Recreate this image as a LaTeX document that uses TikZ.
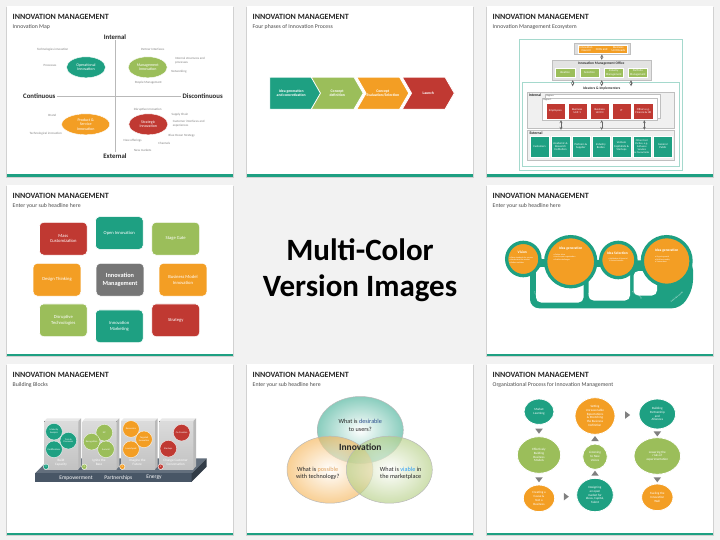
\documentclass[tikz,border=0pt]{standalone}
\usepackage{fontspec}
\setmainfont{Carlito}
\usetikzlibrary{shapes.geometric,shapes.symbols,arrows,positioning,calc}
\definecolor{imteal}{RGB}{30,160,130}
\definecolor{imgreen}{RGB}{155,190,90}
\definecolor{imorange}{RGB}{243,158,36}
\definecolor{imred}{RGB}{192,57,50}
\definecolor{imgray}{RGB}{118,118,118}
\definecolor{imslate}{RGB}{72,86,102}
\definecolor{bgray}{RGB}{242,242,242}
\definecolor{navy}{RGB}{47,79,143}
\definecolor{skyblue}{RGB}{42,157,244}
\definecolor{tan}{RGB}{222,160,90}
\newcommand\fsz[2]{\fontsize{#1}{#2}\selectfont}
\tikzset{
  title/.style={anchor=west, inner sep=0, font=\bfseries\fsz{8}{9}, text=black!85},
  subtitle/.style={anchor=west, inner sep=0, font=\fsz{5.8}{7}, text=black!70},
  axis/.style={inner sep=1pt, font=\bfseries\fsz{6.8}{8}, text=black!85},
  blob/.style={ellipse, minimum width=39, minimum height=21, inner sep=0, align=center, text=white, draw=white, line width=0.4, font=\fsz{4}{4.6}},
  tag/.style={inner sep=0, align=center, text=black!50, font=\fsz{3.2}{3.7}},
  chev/.style={signal, signal to=east, signal from=west, signal pointer angle=120, minimum width=52, minimum height=32, inner sep=0, align=center, text=white, draw=white, line width=0.8, font=\bfseries\fsz{3.8}{4.6}},
  panel/.style={draw=gray!50, fill=gray!12, line width=0.3, inner sep=0},
  ebox/.style={inner sep=0.3, align=center, text=white, draw=white, line width=0.2, font=\fsz{2.9}{3.3}},
  etxt/.style={inner sep=0, align=center, text=white, font=\fsz{3}{3.4}},
  hdr/.style={inner sep=0.3, font=\bfseries\fsz{3.6}{4}, text=black!80},
  lbl/.style={inner sep=0, font=\bfseries\fsz{3.8}{4.2}, text=black!85},
  small/.style={inner sep=0, anchor=west, font=\fsz{2.2}{2.6}, text=black!70},
  dbl/.style={<->, >=stealth, black!60, line width=0.35},
  tile/.style={rounded corners=4pt, minimum width=47.7, minimum height=32.7, inner sep=1, align=center, text=white, draw=white, line width=0.6, font=\fsz{4.6}{5.6}},
  ring/.style={circle, fill=imorange, draw=imteal, line width=3.3, inner sep=0},
  ctitle/.style={inner sep=0, text=white, font=\bfseries\fsz{3.6}{4}},
  bul/.style={inner sep=0, anchor=north west, align=left, text=white, font=\fsz{2}{2.7}},
  looptxt/.style={inner sep=0, text=white, font=\fsz{2}{2.4}},
  plat/.style={inner sep=0, text=white, font=\fsz{5.5}{6.5}},
  bub/.style={circle, minimum size=16.6, inner sep=0, align=center, text=white, draw=white, line width=0.3, font=\fsz{2.4}{2.8}},
  blbl/.style={inner sep=0, align=center, text=white, font=\fsz{3.4}{3.9}},
  num/.style={circle, minimum size=5.4, inner sep=0, draw=white, line width=0.4, text=white, font=\fsz{2.6}{3}},
  venn/.style={ellipse, minimum width=86, minimum height=67, draw=gray!55, line width=0.5, fill opacity=0.65},
  vtxt/.style={inner sep=0, align=center, text=black!85, font=\fsz{6.2}{7.4}},
  orb/.style={ellipse, inner sep=0, align=center, text=white, draw=white, line width=0.8, font=\fsz{3.2}{3.8}},
  tri/.style={isosceles triangle, isosceles triangle stretches, minimum width=7.5, minimum height=5, inner sep=0, fill=black!50}
}
\begin{document}
\begin{tikzpicture}[x=1pt,y=-1pt]
\useasboundingbox (0,0) rectangle (720,540);
\fill[bgray] (0,0) rectangle (720,540);

\foreach \sx/\sy/\sub in {7/6/Innovation Map, 247/6/Four phases of Innovation Process, 487/6/Innovation Management Ecosystem, 7/185/Enter your sub headline here, 487/185/Enter your sub headline here, 7/364/Building Blocks, 247/364/Enter your sub headline here, 487/364/Organizational Process for Innovation Management}{
  \begin{scope}[shift={(\sx,\sy)}]
    \fill[black!18] (-1.2,1.2) rectangle (227.2,172.2);
    \fill[white] (0,0) rectangle (226,171);
    \fill[imteal] (0,168.5) rectangle (226,170.8);
    \node[title] at (5.5,10.5) {INNOVATION MANAGEMENT};
    \node[subtitle] at (5.5,20.5) {\sub};
  \end{scope}
}

\node[align=center, font=\bfseries\fsz{31}{36}] (center) at (360,270) {Multi-Color\\Version Images};

% innovation map
\begin{scope}[shift={(7,6)}]
  \node[axis] (int) at (108,30.7) {Internal};
  \node[axis] (ext) at (108,150) {External};
  \node[axis] (cont) at (32.3,90) {Continuous};
  \node[axis] (disc) at (195.7,90) {Discontinuous};
  \draw[gray!55, line width=0.5] (int) -- (ext);
  \draw[gray!55, line width=0.5] (cont) -- (disc);
  \node[blob, fill=imteal] (op) at (79,61.3) {Operational\\Innovation};
  \node[blob, fill=imgreen] (mg) at (140.7,61.3) {Management\\Innovation};
  \node[blob, fill=imorange, minimum width=48] (ps) at (78.7,118.3) {Product \&\\Service\\Innovation};
  \node[blob, fill=imred] (st) at (141.3,118.3) {Strategic\\Innovation};
  \node[tag] at (45.7,44) {Technologies innovation};
  \node[tag] at (43,59.3) {Processes};
  \node[tag] at (145.7,43.3) {Partner Interfaces};
  \node[tag, align=left] at (183,54.5) {Internal structures and\\processes};
  \node[tag] at (172,66) {Networking};
  \node[tag] at (141.3,76.7) {People Management};
  \node[tag] at (140.7,103.3) {Disruptive Innovation};
  \node[tag] at (173,108.3) {Supply Chain};
  \node[tag, align=left] at (181.7,117.8) {Customer interfaces and\\experiences};
  \node[tag] at (174.7,130) {Blue Ocean Strategy};
  \node[tag] at (125.7,134.7) {New offerings};
  \node[tag] at (157.3,137.7) {Channels};
  \node[tag] at (135.7,144.7) {New markets};
  \node[tag] at (45.3,109) {Brand};
  \node[tag] at (38.7,128) {Technological innovation};
\end{scope}

% four phases
\begin{scope}[shift={(247,6)}]
  \node[chev, fill=imteal, signal from=nowhere] (ph1) at (44.2,87.2) {Idea generation\\and concretization};
  \node[chev, fill=imgreen] (ph2) at (90.2,87.2) {Concept\\definition};
  \node[chev, fill=imorange] (ph3) at (135.8,87.2) {Concept\\Evaluation/Selection};
  \node[chev, fill=imred] (ph4) at (181.3,87.2) {Launch};
\end{scope}

% ecosystem
\begin{scope}[shift={(487,6)}]
  \node[draw=imteal!40, fill=white, line width=0.5, minimum width=163.4, minimum height=130.7, inner sep=0] (eco) at (114,98.65) {};
  \node[panel, fill=gray!25, minimum width=55.7, minimum height=11.6] (council) at (115.2,42.5) {};
  \node[ebox, fill=imorange, minimum width=49, minimum height=8.3] (cbar) at (115.2,43.2) {};
  \node[etxt] at (99,43.2) {Innovation\\Council};
  \node[etxt] at (114.7,43.2) {CEOs and};
  \node[etxt] at (131.3,43.2) {Business\\Unit Heads};
  \node[panel, fill=gray!22, minimum width=99, minimum height=20] (office) at (114.2,64) {};
  \node[hdr] at (114.2,58) {Innovation Management Office};
  \node[ebox, fill=imgreen, minimum width=20, minimum height=9] (ofa) at (78,66.8) {Ideation};
  \node[ebox, fill=imgreen, minimum width=19, minimum height=9] (ofb) at (102.5,66.8) {Selection};
  \node[ebox, fill=imgreen, minimum width=19.3, minimum height=9] (ofc) at (126.7,66.8) {Industry\\Management};
  \node[ebox, fill=imgreen, minimum width=19, minimum height=9] (ofd) at (150.8,66.8) {Portfolio\\Management};
  \draw[dbl] (council) -- (office);
  \node[draw=imteal!40, fill=white, line width=0.5, minimum width=156.3, minimum height=84, inner sep=0] (ideas) at (113.85,118.7) {};
  \node[hdr] (ideahdr) at (114.7,82.3) {Ideators \& Implementers};
  \foreach \dx in {-28.5,0.5,29.8}
    \draw[dbl] ([xshift=\dx pt]office.south) -- ([xshift=\dx pt]office.south |- ideahdr.north);
  \node[panel, minimum width=147.6, minimum height=36] (intl) at (113.5,104.3) {};
  \node[lbl] at (48,88.8) {Internal};
  \node[draw=gray!50, fill=white, line width=0.3, minimum width=115, minimum height=24, inner sep=0] (regs) at (115.5,100.3) {};
  \node[small] at (59.5,90) {Regions};
  \node[draw=gray!50, fill=white, line width=0.3, minimum width=115, minimum height=22.3, inner sep=0] (reg1) at (112.2,102.85) {};
  \node[small] at (56.5,93.6) {Region 1};
  \node[ebox, fill=imred, minimum width=19.4, minimum height=16.6] (emp) at (68.35,105) {Employees};
  \node[ebox, fill=imred, minimum width=19, minimum height=16.6] (bu1) at (90.2,105) {Business\\Unit 1};
  \node[ebox, fill=imred, minimum width=19.3, minimum height=16.6] (bun) at (112.65,105) {Business\\Unit N};
  \node[ebox, fill=imred, minimum width=19.3, minimum height=16.6] (it) at (134.35,105) {IT};
  \node[ebox, fill=imred, minimum width=20, minimum height=16.6] (oth) at (156.3,105) {Others e.g.\\Finance \& HR};
  \node[panel, minimum width=147.6, minimum height=30] (extl) at (113.5,139) {};
  \node[lbl] at (49,127) {External};
  \foreach \dx in {-38.2,2.5,45.1}
    \draw[dbl] ([xshift=\dx pt]reg1.south) -- ([xshift=\dx pt]reg1.south |- extl.north);
  \node[ebox, fill=imteal, minimum width=19, minimum height=20.7] (cus) at (52.5,140.35) {Customers};
  \node[ebox, fill=imteal, minimum width=19, minimum height=20.7] (aca) at (73.5,140.35) {Academic \&\\Research\\Institution};
  \node[ebox, fill=imteal, minimum width=18.3, minimum height=20.7] (par) at (93.85,140.35) {Partners \&\\Supplier};
  \node[ebox, fill=imteal, minimum width=18.3, minimum height=20.7] (ind) at (113.85,140.35) {Industry\\Bodies};
  \node[ebox, fill=imteal, minimum width=18.4, minimum height=20.7] (ven) at (134.5,140.35) {Venture\\Capitalists \&\\Startups};
  \node[ebox, fill=imteal, minimum width=18.3, minimum height=20.7, font=\fsz{2.6}{2.95}] (thi) at (154.85,140.35) {Other third\\Parties, e.g.,\\Software\\Vendors\\\& Consultants};
  \node[ebox, fill=imteal, minimum width=19, minimum height=20.7] (gen) at (175.8,140.35) {General\\Public};
\end{scope}

% tiles
\begin{scope}[shift={(7,185)}]
  \node[tile, fill=imgray, font=\bfseries\fsz{6.3}{7.4}] (core) at (113,94.7) {Innovation\\Management};
  \node[tile, fill=imred] (mass) at (56.3,53.7) {Mass\\Customization};
  \node[tile, fill=imteal] (open) at (112.3,48) {Open Innovation};
  \node[tile, fill=imgreen] (gate) at (168.7,53.7) {Stage Gate};
  \node[tile, fill=imorange] (dt) at (50,94.7) {Design Thinking};
  \node[tile, fill=imorange] (bmi) at (176,94.7) {Business Model\\Innovation};
  \node[tile, fill=imgreen] (dis) at (56.3,135.3) {Disruptive\\Technologies};
  \node[tile, fill=imteal] (mkt) at (112.3,141.3) {Innovation\\Marketing};
  \node[tile, fill=imred] (strat) at (168.7,135.3) {Strategy};
\end{scope}

% loop of circles
\begin{scope}[shift={(487,185)}]
  \fill[imteal, rounded corners=9pt] (43,74) -- (43,123.3) -- (194,123.3) -- (206,104) -- (206,76) -- cycle;
  \fill[white, rounded corners=5pt] (49,82) rectangle (96.5,117.5);
  \fill[white, rounded corners=5pt] (101.5,82) rectangle (143,115.5);
  \fill[white, rounded corners=5pt] (146.5,86) rectangle (170,110.5);
  \node[looptxt, rotate=-50] at (51,112) {Feedback loop};
  \node[looptxt, rotate=-25] at (106.3,111.7) {Feedback loop};
  \node[looptxt, rotate=-35] at (150,110) {Feedback loop};
  \node[looptxt, rotate=40] at (190,112) {Sustainable growth};
  \node[ring, minimum size=33.3] (vis) at (36.3,74) {};
  \node[ring, minimum size=50.1] (ide) at (83.7,76.7) {};
  \node[ring, minimum size=35.3] (sel) at (131.3,75) {};
  \node[ring, minimum size=48.7] (gro) at (179.7,76) {};
  \node[ctitle] at (35.3,67.7) {Vision};
  \node[bul] at (22.3,71.5) {• Raise standards for success\\• Understand the market\\• Define ambition};
  \node[ctitle] at (83.7,63.3) {Idea generation};
  \node[bul] at (66.3,68.5) {• Gather ideas\\• Involve your organization\\• Publish challenges};
  \node[ctitle] at (130.3,68.3) {Idea Selection};
  \node[bul] at (121.3,72.5) {• Validation of financial\\\ \ \& future benefits};
  \node[ctitle] at (179.7,65.7) {Idea generation};
  \node[bul] at (168,70.8) {• Organic growth\\• Build new entity\\• Transactions};
\end{scope}

% building blocks
\begin{scope}[shift={(7,364)}]
  \fill[imslate!85] (28,109.3) -- (43,94.3) -- (199.7,94.3) -- (184.7,109.3) -- cycle;
  \fill[imslate] (28,109.3) rectangle (184.7,117.7);
  \fill[imslate!70!black] (184.7,109.3) -- (199.7,94.3) -- (199.7,102.7) -- (184.7,117.7) -- cycle;
  \node[plat] at (69,113.7) {Empowerment};
  \node[plat] at (111.3,113.7) {Partnerships};
  \node[plat] at (147,113.7) {Energy};
  \foreach \bx in {37.3,75.7,114,152.3}{
    \fill[gray!18] (\bx,57) -- (\bx+2.7,54.3) -- (\bx+36.7,54.3) -- (\bx+34,57) -- cycle;
    \fill[top color=gray!28, bottom color=gray!48] (\bx,57) rectangle (\bx+34,105);
    \fill[gray!55] (\bx+34,57) -- (\bx+36.7,54.3) -- (\bx+36.7,102.3) -- (\bx+34,105) -- cycle;
  }
  \node[bub, fill=imteal] (ma) at (47,67.7) {Maturity\\Analysis};
  \node[bub, fill=imteal] (tp) at (61.3,76.7) {Train \&\\Processes};
  \node[bub, fill=imteal] (ce) at (47,85.3) {Certifications};
  \node[bub, fill=imgreen] (ilp) at (97.3,68.7) {ILP};
  \node[bub, fill=imgreen] (rec) at (84.7,77.7) {Recognition};
  \node[bub, fill=imgreen] (sum) at (99,85.3) {Summit};
  \node[bub, fill=imorange] (res) at (124,65) {Reservoirs};
  \node[bub, fill=imorange] (tar) at (137,75.3) {Targeted\\Innovation};
  \node[bub, fill=imorange] (lau) at (124,85.3) {Launchpad};
  \node[bub, fill=imred] (coc) at (174.7,68.7) {Co-Creation};
  \node[bub, fill=imred] (sta) at (161.3,84.7) {Startups};
  \node[blbl] at (54,98.3) {Build\\Capacity};
  \node[blbl] at (92,98.3) {Ignite the\\Base};
  \node[blbl] at (130.3,98.3) {Imagine the\\Future};
  \node[blbl] at (168.7,98.3) {Change Customer\\Conversation};
  \node[num, fill=imteal] at (39,102.7) {1};
  \node[num, fill=imgreen] at (77.3,102.7) {2};
  \node[num, fill=imorange] at (115.3,102.7) {3};
  \node[num, fill=imred] at (153.7,102.7) {4};
\end{scope}

% venn
\begin{scope}[shift={(247,364)}]
  \node[venn, inner color=white, outer color=imteal!80] (des) at (113.3,66) {};
  \node[venn, inner color=white, outer color=imorange!75] (pos) at (83,105.7) {};
  \node[venn, inner color=white, outer color=imgreen!75] (via) at (142.3,105.7) {};
  \node[vtxt] at (113.3,61.5) {What is \textcolor{navy}{desirable}\\to users?};
  \node[vtxt, font=\bfseries\fsz{9.5}{11}] at (113.3,82.7) {Innovation};
  \node[vtxt] at (70.7,109.3) {What is \textcolor{tan}{possible}\\with technology?};
  \node[vtxt] at (153.7,109.3) {What is \textcolor{skyblue}{viable} in\\the marketplace};
\end{scope}

% organizational process
\begin{scope}[shift={(487,364)}]
  \node[orb, fill=imteal, minimum width=30, minimum height=25.4] (ml) at (52,47.7) {Market\\Learning};
  \node[orb, fill=imgreen, minimum width=43.4, minimum height=36.6] (eb) at (52,91) {Effectively\\Building\\Business\\Models};
  \node[orb, fill=imorange, minimum width=31.4, minimum height=26.6] (cc) at (52,134.3) {Creating a\\Cause \&\\Not a\\Business};
  \node[orb, fill=imteal, minimum width=36.6, minimum height=33.4] (om) at (108,131) {Designing\\an open\\market for\\Ideas, Capital,\\Talent};
  \node[orb, fill=imgreen, minimum width=24.6, minimum height=25.4] (lv) at (108,92.7) {Listening\\to New\\Voices};
  \node[orb, fill=imorange, minimum width=40, minimum height=36.6] (su) at (108,52) {Setting\\Unreasonable\\Expectations\\\& Stretching\\the Business\\Definition};
  \node[orb, fill=imteal, minimum width=36.6, minimum height=30] (bp) at (170.3,50) {Building\\Partnership\\and\\Alliances};
  \node[orb, fill=imgreen, minimum width=46.6, minimum height=36.6] (lr) at (170.3,92) {Lowering the\\risks of\\experimentation};
  \node[orb, fill=imorange, minimum width=31.4, minimum height=26.6] (fw) at (170.3,133.3) {Fueling the\\Innovation\\Well};
  \node[tri, shape border rotate=-90] at ($(ml.south)!.5!(eb.north)$) {};
  \node[tri, shape border rotate=-90] at ($(eb.south)!.5!(cc.north)$) {};
  \node[tri] at ($(cc.east)!.5!(om.west)$) {};
  \node[tri, shape border rotate=90] at ($(om.north)!.5!(lv.south)$) {};
  \node[tri, shape border rotate=90] at ($(lv.north)!.5!(su.south)$) {};
  \node[tri] at ($(su.east)!.5!(bp.west)$) {};
  \node[tri, shape border rotate=-90] at ($(bp.south)!.5!(lr.north)$) {};
  \node[tri, shape border rotate=-90] at ($(lr.south)!.5!(fw.north)$) {};
\end{scope}
\end{tikzpicture}
\end{document}
